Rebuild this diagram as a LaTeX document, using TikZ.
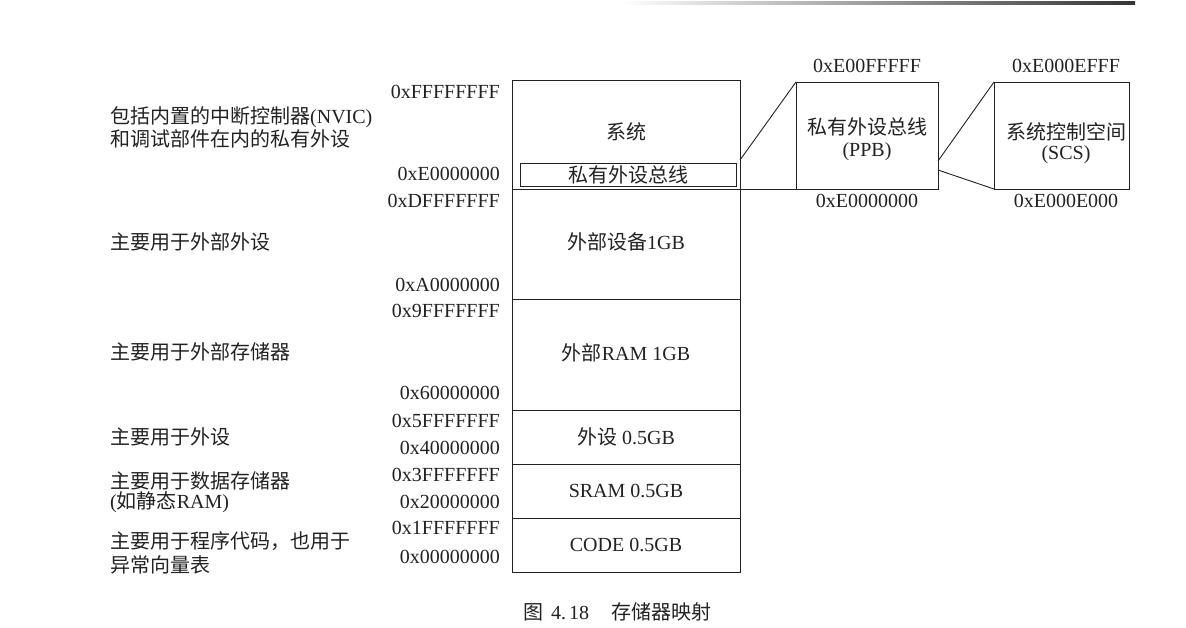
\documentclass[tikz,border=0pt]{standalone}
\usepackage{fontspec}
\setmainfont{Liberation Serif}
\newfontfamily\cjk{Noto Sans CJK SC}
\definecolor{ink}{HTML}{222222}
\begin{document}
\begin{tikzpicture}[x=1pt,y=-1pt,
  every node/.style={inner sep=0pt,text=ink},
  lbl/.style={font=\fontsize{20}{23}\selectfont},
  addr/.style={lbl,anchor=east},
  desc/.style={lbl,anchor=west},
  mid/.style={lbl,anchor=center},
  edge/.style={draw=ink,line width=0.9pt}]
\useasboundingbox (0,0) rectangle (1186,627);
% header rule artifact
\shade[left color=white,right color=black!80] (620,1.8) rectangle (1135,4.6);

% main column
\draw[edge] (512,80) rectangle (740,572);
\coordinate (m1l) at (512,189); \coordinate (m1r) at (740,189);
\coordinate (m2l) at (512,299); \coordinate (m2r) at (740,299);
\coordinate (m3l) at (512,410); \coordinate (m3r) at (740,410);
\coordinate (m4l) at (512,464); \coordinate (m4r) at (740,464);
\coordinate (m5l) at (512,518); \coordinate (m5r) at (740,518);
\draw[edge] (m2l) -- (m2r) (m3l) -- (m3r) (m4l) -- (m4r) (m5l) -- (m5r);
\node[edge,minimum width=216pt,minimum height=23pt,mid] (ppbin) at (628,174.5) {{\cjk 私有外设总线}};

% box labels
\node[mid] (sys) at (626,132) {{\cjk 系统}};
\node[mid] (ext) at (626,242) {{\cjk 外部设备}1GB};
\node[mid] (eram) at (626,353) {{\cjk 外部}RAM 1GB};
\node[mid] (per) at (626,437) {{\cjk 外设} 0.5GB};
\node[mid] (sram) at (626,491) {SRAM 0.5GB};
\node[mid] (code) at (626,545) {CODE 0.5GB};

% addresses
\node[addr] (a1) at (500,92) {0xFFFFFFFF};
\node[addr] (a2) at (500,174) {0xE0000000};
\node[addr] (a3) at (500,201) {0xDFFFFFFF};
\node[addr] (a4) at (500,285) {0xA0000000};
\node[addr] (a5) at (500,311) {0x9FFFFFFF};
\node[addr] (a6) at (500,393) {0x60000000};
\node[addr] (a7) at (500,421) {0x5FFFFFFF};
\node[addr] (a8) at (500,448) {0x40000000};
\node[addr] (a9) at (500,475) {0x3FFFFFFF};
\node[addr] (a10) at (500,502) {0x20000000};
\node[addr] (a11) at (500,528) {0x1FFFFFFF};
\node[addr] (a12) at (500,557) {0x00000000};

% descriptions
\node[desc] (d1a) at (110,117) {{\cjk 包括内置的中断控制器}(NVIC)};
\node[desc] (d1b) at (110,139) {{\cjk 和调试部件在内的私有外设}};
\node[desc] (d2) at (110,242) {{\cjk 主要用于外部外设}};
\node[desc] (d3) at (110,352) {{\cjk 主要用于外部存储器}};
\node[desc] (d4) at (110,437) {{\cjk 主要用于外设}};
\node[desc] (d5a) at (110,481) {{\cjk 主要用于数据存储器}};
\node[desc] (d5b) at (110,502) {({\cjk 如静态}RAM)};
\node[desc] (d6a) at (110,541) {{\cjk 主要用于程序代码，也用于}};
\node[desc] (d6b) at (110,565) {{\cjk 异常向量表}};

% PPB box
\draw[edge] (796,82) rectangle (938,189);
\coordinate (ppbtl) at (796,82); \coordinate (ppbbl) at (796,189);
\node[mid] (ppbt1) at (867,127) {{\cjk 私有外设总线}};
\node[mid] (ppbt2) at (867,152) {(PPB)};
\node[mid] (ppbhi) at (867,66) {0xE00FFFFF};
\node[mid] (ppblo) at (867,201) {0xE0000000};

% SCS box
\draw[edge] (994,82) rectangle (1129,189);
\coordinate (scstl) at (994,82); \coordinate (scsbl) at (994,189);
\node[mid] (scst1) at (1066,132) {{\cjk 系统控制空间}};
\node[mid] (scst2) at (1066,155) {(SCS)};
\node[mid] (scshi) at (1066,66) {0xE000EFFF};
\node[mid] (scslo) at (1066,201) {0xE000E000};

% zoom connectors
\coordinate (mz1) at (740,160);
\draw[edge] (mz1) -- (ppbtl);
\draw[edge] (m1l) -- (ppbbl);
\coordinate (pz1) at (938,161); \coordinate (pz2) at (938,170);
\draw[edge] (pz1) -- (scstl);
\draw[edge] (pz2) -- (scsbl);

% caption
\node[mid,font=\fontsize{20}{24}\selectfont] (cap) at (617,612) {{\cjk 图}\hspace{8pt}4.\hspace{3pt}18\hspace{22pt}{\cjk 存储器映射}};
\end{tikzpicture}
\end{document}
